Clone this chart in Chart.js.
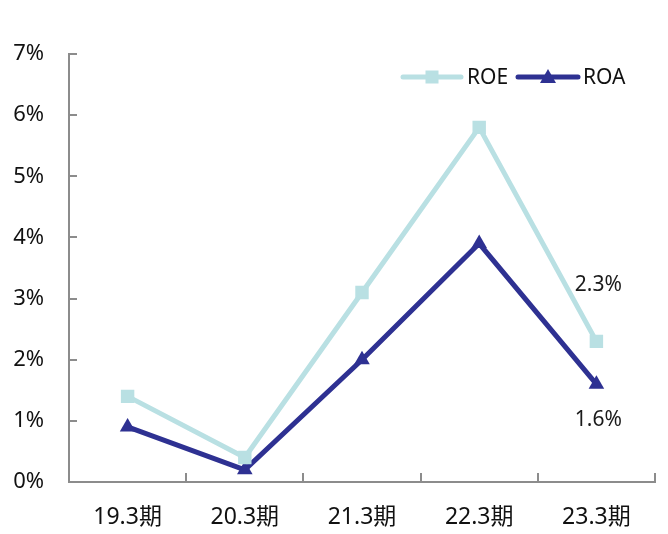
<!DOCTYPE html>
<html>
<head>
<meta charset="utf-8">
<script src="https://cdn.jsdelivr.net/npm/chart.js@4.4.0/dist/chart.umd.min.js"></script>
<style>
html,body{margin:0;padding:0;background:#fff;}
#wrap{width:668px;height:534px;position:relative;}
</style>
</head>
<body>
<div id="wrap"><canvas id="c"></canvas></div>
<script>
const categories = ['19.3期','20.3期','21.3期','22.3期','23.3期'];
const roeValues = [1.4, 0.4, 3.1, 5.8, 2.3];
const roaValues = [0.9, 0.2, 2.0, 3.9, 1.6];
const yTicks = [0,1,2,3,4,5,6,7];
const seriesNames = ['ROE','ROA'];
const labeledIndex = 4;

const FONT = "'Noto Sans', 'Noto Sans CJK JP', sans-serif";
const ROE_COLOR = '#b9e0e3';
const ROA_COLOR = '#2e3192';
const AXIS_COLOR = '#8c8c8c';

const innerTicks = {
  id: 'innerTicks',
  afterDraw(chart) {
    const ctx = chart.ctx;
    const x = chart.scales.x, y = chart.scales.y;
    const a = chart.chartArea;
    ctx.save();
    ctx.strokeStyle = AXIS_COLOR;
    ctx.lineWidth = 2;
    ctx.beginPath();
    yTicks.forEach(v => {
      const py = Math.round(y.getPixelForValue(v));
      ctx.moveTo(a.left, py); ctx.lineTo(a.left + 8, py);
    });
    const n = categories.length;
    for (let i = 0; i < n; i++) {
      let px;
      if (i < n - 1) px = (x.getPixelForTick(i) + x.getPixelForTick(i + 1)) / 2;
      else px = a.right;
      px = Math.round(px);
      ctx.moveTo(px, a.bottom); ctx.lineTo(px, a.bottom - 9);
    }
    ctx.stroke();
    ctx.restore();
  }
};

const pointLabels = {
  id: 'pointLabels',
  afterDatasetsDraw(chart) {
    const ctx = chart.ctx;
    ctx.save();
    ctx.font = '21px ' + FONT;
    ctx.fillStyle = '#1a1a1a';
    ctx.textAlign = 'center';
    ctx.textBaseline = 'middle';
    chart.data.datasets.forEach((ds, di) => {
      const p = chart.getDatasetMeta(di).data[labeledIndex];
      const off = ds.labelOffset;
      ctx.fillText(ds.data[labeledIndex].toFixed(1) + '%', p.x + 2, p.y + off);
    });
    ctx.restore();
  }
};

const customLegend = {
  id: 'customLegend',
  afterDraw(chart) {
    const ctx = chart.ctx;
    ctx.save();
    const yy = 77;
    const items = [
      {x0: 403, x1: 461, text: seriesNames[0], tx: 467, color: ROE_COLOR, shape: 'rect'},
      {x0: 518, x1: 578, text: seriesNames[1], tx: 583, color: ROA_COLOR, shape: 'tri'}
    ];
    items.forEach(it => {
      ctx.strokeStyle = it.color;
      ctx.lineWidth = 5;
      ctx.lineCap = 'round';
      ctx.beginPath(); ctx.moveTo(it.x0, yy); ctx.lineTo(it.x1, yy); ctx.stroke();
      ctx.fillStyle = it.color;
      const cx = (it.x0 + it.x1) / 2;
      if (it.shape === 'rect') {
        ctx.fillRect(cx - 6.5, yy - 6.5, 13, 13);
      } else {
        ctx.beginPath();
        ctx.moveTo(cx, yy - 8); ctx.lineTo(cx + 8, yy + 6); ctx.lineTo(cx - 8, yy + 6);
        ctx.closePath(); ctx.fill();
      }
      ctx.fillStyle = '#111';
      ctx.font = '21px ' + FONT;
      ctx.textAlign = 'left';
      ctx.textBaseline = 'middle';
      ctx.fillText(it.text, it.tx, yy + 1);
    });
    ctx.restore();
  }
};

new Chart(document.getElementById('c'), {
  type: 'line',
  data: {
    labels: categories,
    datasets: [
      {
        label: seriesNames[0], data: roeValues,
        borderColor: ROE_COLOR, backgroundColor: ROE_COLOR,
        borderWidth: 5, pointStyle: 'rect', pointRadius: 9.5, pointHoverRadius: 9.5,
        pointBorderWidth: 0, tension: 0, labelOffset: -56
      },
      {
        label: seriesNames[1], data: roaValues,
        borderColor: ROA_COLOR, backgroundColor: ROA_COLOR,
        borderWidth: 5, pointStyle: 'triangle', pointRadius: 9, pointHoverRadius: 9,
        pointBorderWidth: 0, tension: 0, labelOffset: 36
      }
    ]
  },
  options: {
    responsive: true,
    maintainAspectRatio: false,
    animation: false,
    events: [],
    layout: { padding: { top: 54, right: 13, left: 0, bottom: 0 } },
    plugins: { legend: { display: false }, tooltip: { enabled: false } },
    scales: {
      x: {
        offset: true,
        grid: { display: false, drawTicks: false },
        border: { display: true, color: AXIS_COLOR, width: 2 },
        ticks: { color: '#111', font: { family: FONT, size: 23 }, padding: 22, maxRotation: 0 },
        afterFit(s) { s.height = 52; }
      },
      y: {
        min: 0, max: 7,
        grid: { display: false, drawTicks: false },
        border: { display: true, color: AXIS_COLOR, width: 2 },
        ticks: {
          stepSize: 1, color: '#111', font: { family: FONT, size: 22 }, padding: 25,
          callback: v => v + '%'
        },
        afterFit(s) { s.width = 69; }
      }
    }
  },
  plugins: [innerTicks, pointLabels, customLegend]
});
</script>
</body>
</html>
